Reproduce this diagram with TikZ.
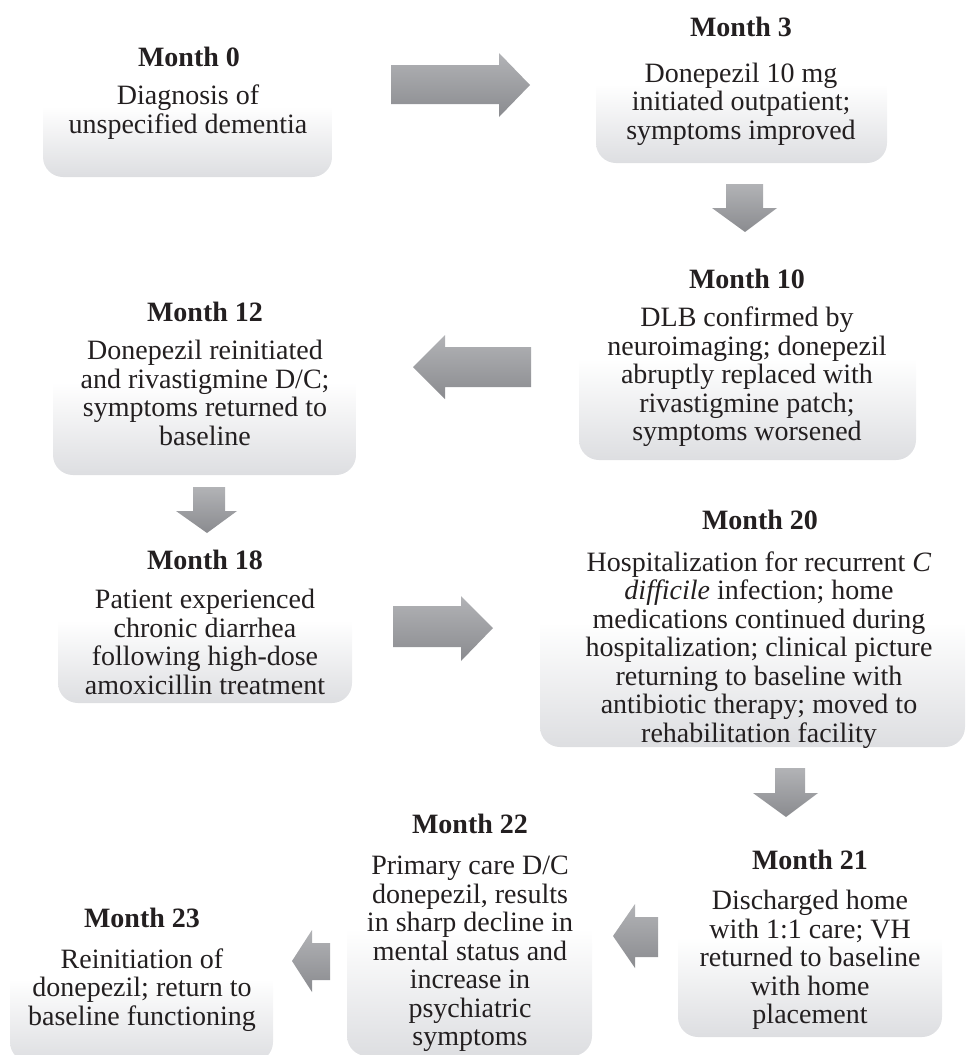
\documentclass[tikz,border=0pt]{standalone}
\usepackage{fontspec}
\setmainfont{Liberation Serif}
\usepackage{tikz}
\usetikzlibrary{positioning}
\definecolor{boxgray}{RGB}{221,222,225}
\definecolor{arrowtop}{RGB}{178,179,182}
\definecolor{arrowbot}{RGB}{138,139,143}
\definecolor{ink}{RGB}{35,31,32}

\begin{document}
\begin{tikzpicture}[x=0.5pt,y=-0.5pt,
  box/.style={rounded corners=10pt,top color=white,bottom color=boxgray,middle color=white},
  blk/.style={top color=arrowtop,bottom color=arrowbot},
  ttl/.style={font=\fontsize{14}{14}\selectfont\bfseries,text=ink,inner sep=0pt},
  txt/.style={font=\fontsize{14}{14.25}\selectfont,text=ink,align=center,inner sep=0pt}]
\useasboundingbox (0,0) rectangle (967,1055);

\path[box] (43,35) rectangle (332,177);
\node[ttl] (t0) at (189,57) {Month 0};
\node[txt] (m0) at (188,112) {Diagnosis of\\unspecified dementia};

\path[box] (596,5) rectangle (887,163);
\node[ttl] (t3) at (741,27) {Month 3};
\node[txt] (m3) at (741,104) {Donepezil 10 mg\\initiated outpatient;\\symptoms improved};

\path[box] (579,257) rectangle (916,460);
\node[ttl] (t10) at (747,279) {Month 10};
\node[txt] (m10) at (747,377) {DLB confirmed by\\neuroimaging; donepezil\\abruptly replaced with\\rivastigmine patch;\\symptoms worsened};

\path[box] (53,290) rectangle (356,475);
\node[ttl] (t12) at (205,312) {Month 12};
\node[txt] (m12) at (205,393) {Donepezil reinitiated\\and rivastigmine D/C;\\symptoms returned to\\baseline};

\path[box] (58,538) rectangle (352,703);
\node[ttl] (t18) at (205,560) {Month 18};
\node[txt] (m18) at (205,642) {Patient experienced\\chronic diarrhea\\following high-dose\\amoxicillin treatment};

\path[box] (540,498) rectangle (965,747);
\node[ttl] (t20) at (760,520) {Month 20};
\node[txt] (m20) at (759,650) {Hospitalization for recurrent \textit{C}\\\textit{difficile} infection; home\\medications continued during\\hospitalization; clinical picture\\returning to baseline with\\antibiotic therapy; moved to\\rehabilitation facility};

\path[box] (678,838) rectangle (942,1037);
\node[ttl] (t21) at (810,860) {Month 21};
\node[txt] (m21) at (810,960) {Discharged home\\with 1:1 care; VH\\returned to baseline\\with home\\placement};

\path[box] (347,802) rectangle (592,1056);
\node[ttl] (t22) at (470,824) {Month 22};
\node[txt] (m22) at (470,954) {Primary care D/C\\donepezil, results\\in sharp decline in\\mental status and\\increase in\\psychiatric\\symptoms};

\path[box] (10,896) rectangle (273,1062);
\node[ttl] (t23) at (142,918) {Month 23};
\node[txt] (m23) at (142,990) {Reinitiation of\\donepezil; return to\\baseline functioning};

\path[blk] (391,65) -- (499,65) -- (499,53) -- (530,85) -- (499,117) -- (499,104) -- (391,104) -- cycle;
\path[blk] (726,184) -- (763,184) -- (763,208) -- (777,208) -- (745,232) -- (712,208) -- (726,208) -- cycle;
\path[blk] (531,347) -- (445,347) -- (445,335) -- (413,367) -- (445,399) -- (445,387) -- (531,387) -- cycle;
\path[blk] (193,487) -- (225,487) -- (225,511) -- (237,511) -- (207,533) -- (176,511) -- (193,511) -- cycle;
\path[blk] (393,606) -- (461,606) -- (461,596) -- (493,628) -- (461,661) -- (461,647) -- (393,647) -- cycle;
\path[blk] (775,768) -- (805,768) -- (805,793) -- (818,793) -- (786,817) -- (753,793) -- (775,793) -- cycle;
\path[blk] (658,917) -- (635,917) -- (635,904) -- (613,936) -- (635,968) -- (635,957) -- (658,957) -- cycle;
\path[blk] (330,943) -- (312,943) -- (312,930) -- (292,961) -- (312,992) -- (312,980) -- (330,980) -- cycle;
\end{tikzpicture}
\end{document}
